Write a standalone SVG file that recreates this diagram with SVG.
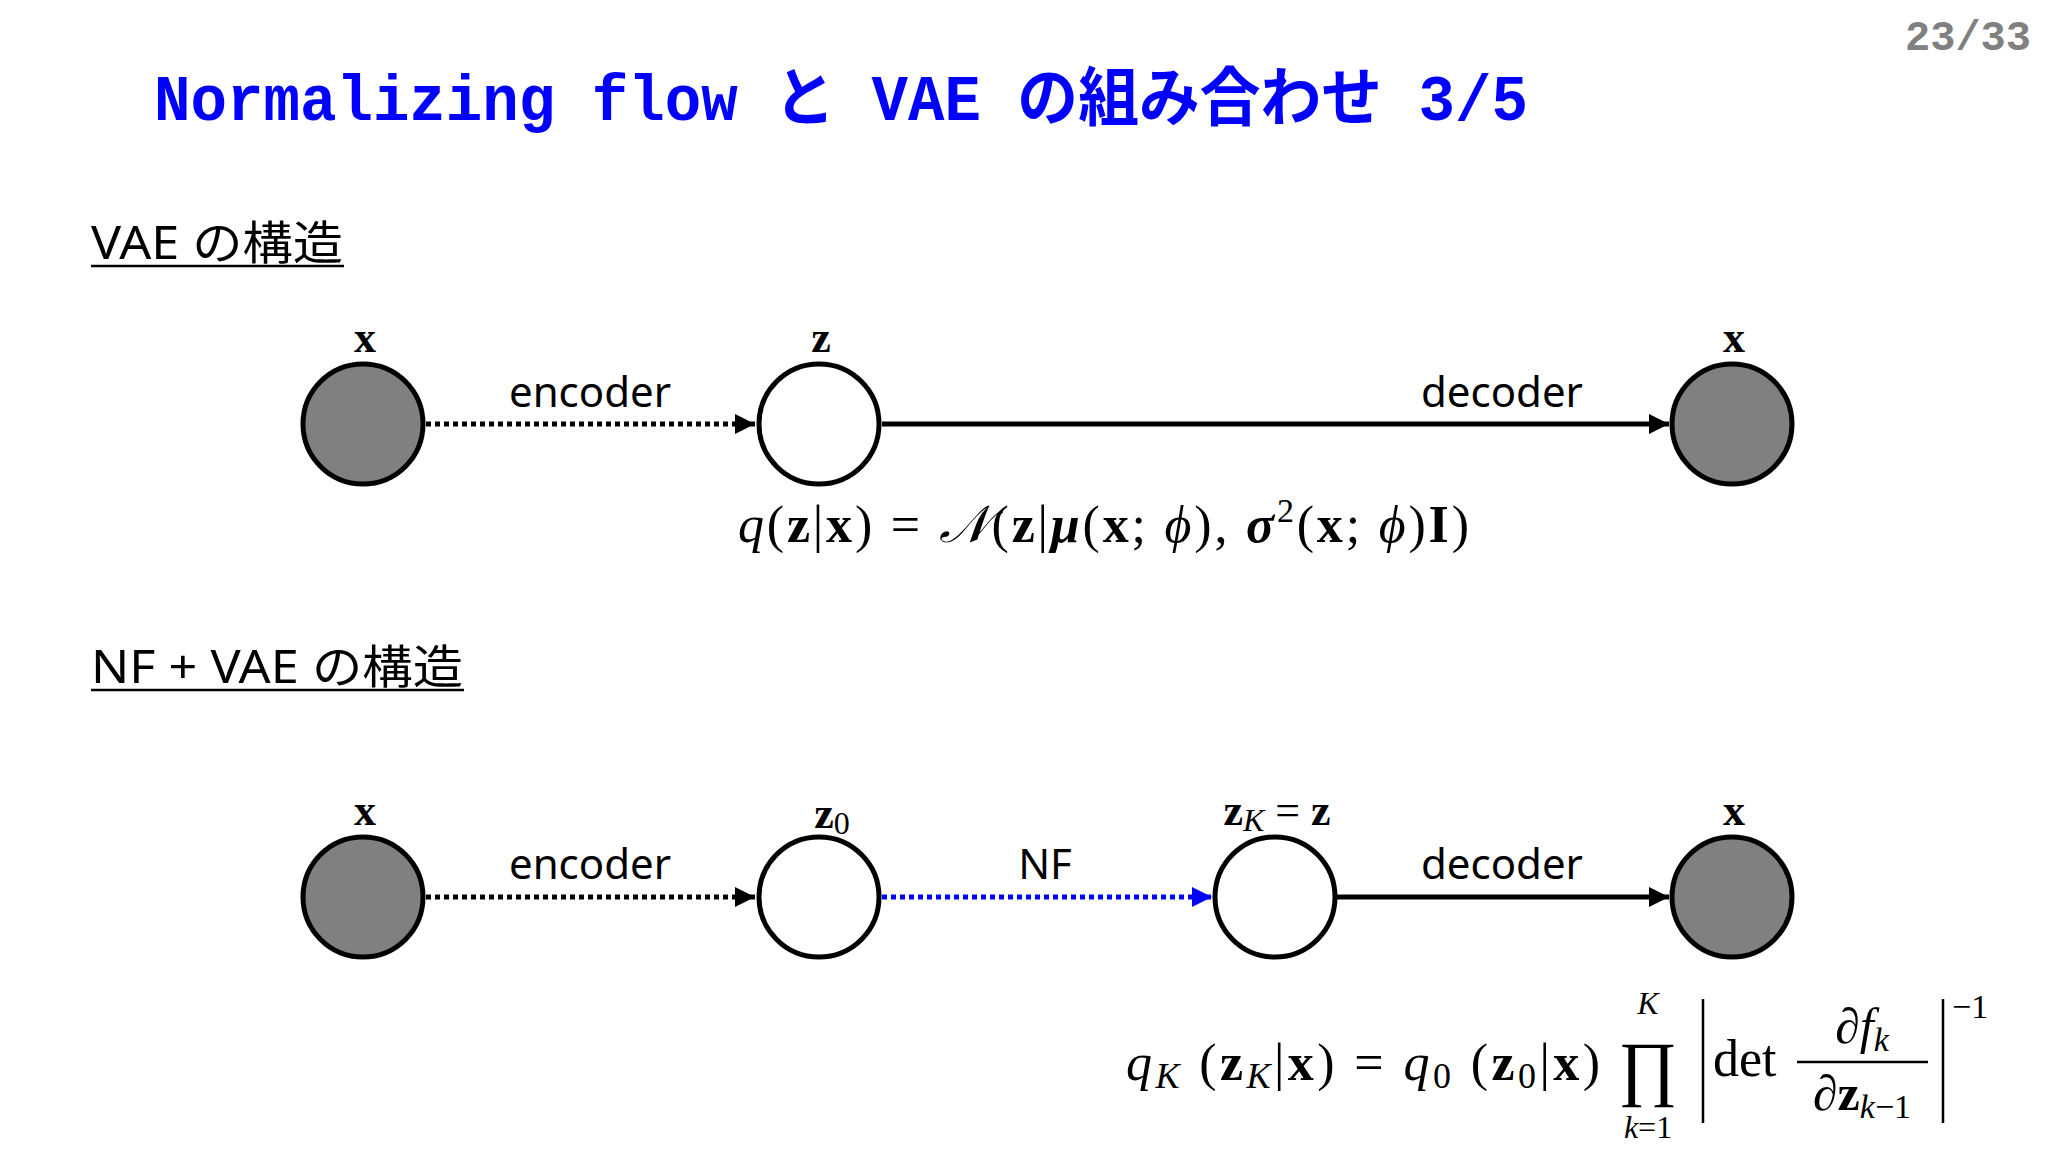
<svg xmlns="http://www.w3.org/2000/svg" width="2048" height="1152" viewBox="0 0 2048 1152">
<style>
.t{font-family:"Liberation Mono","Noto Sans CJK JP",monospace;font-weight:bold;fill:#0000ff}
.h{font-family:"Noto Sans","Noto Sans CJK JP",sans-serif;font-size:46px;fill:#000}
.s{font-family:"Noto Sans",sans-serif;font-size:42px;fill:#000;text-anchor:middle}
.m{font-family:"Liberation Serif","DejaVu Serif",serif;fill:#000}
.b{font-weight:bold}
.i{font-style:italic}
.g{fill:#808080;stroke:#000;stroke-width:5}
.w{fill:#fff;stroke:#000;stroke-width:5}
.ln{stroke:#000;stroke-width:5;fill:none}
.dt{stroke-dasharray:5 4}
</style>
<defs>
<marker id="a" viewBox="0 0 10 10" refX="10" refY="5" markerWidth="4" markerHeight="4" orient="auto"><path d="M0,0L10,5L0,10z" fill="#000"/></marker>
<marker id="ab" viewBox="0 0 10 10" refX="10" refY="5" markerWidth="4" markerHeight="4" orient="auto"><path d="M0,0L10,5L0,10z" fill="#0000ff"/></marker>
</defs>
<rect width="2048" height="1152" fill="#fff"/>
<text x="154" y="120" class="t" font-size="64" textLength="1374" lengthAdjust="spacingAndGlyphs">Normalizing flow と VAE の組み合わせ 3/5</text>
<text x="2031" y="50" font-family="Liberation Mono,monospace" font-weight="bold" font-size="42" fill="#808080" text-anchor="end">23/33</text>
<text x="91" y="259" class="h" textLength="252" lengthAdjust="spacingAndGlyphs">VAE の構造</text>
<line x1="91" y1="266" x2="344" y2="266" stroke="#000" stroke-width="2.5"/>
<text x="91" y="683" class="h" textLength="372" lengthAdjust="spacingAndGlyphs">NF + VAE の構造</text>
<line x1="91" y1="690" x2="464" y2="690" stroke="#000" stroke-width="2.5"/>
<g id="connectors">
<line x1="426" y1="424" x2="755" y2="424" class="ln dt" marker-end="url(#a)"/>
<line x1="882" y1="424" x2="1669" y2="424" class="ln" marker-end="url(#a)"/>
<line x1="426" y1="897" x2="755" y2="897" class="ln dt" marker-end="url(#a)"/>
<line x1="882" y1="897" x2="1212" y2="897" class="ln dt" style="stroke:#0000ff" marker-end="url(#ab)"/>
<line x1="1337" y1="897" x2="1669" y2="897" class="ln" marker-end="url(#a)"/>
<text x="590" y="407" class="s">encoder</text>
<text x="1502" y="407" class="s">decoder</text>
<text x="590" y="879" class="s">encoder</text>
<text x="1045" y="879" class="s">NF</text>
<text x="1502" y="879" class="s">decoder</text>
</g>
<g id="n1"><circle cx="363" cy="424" r="60" class="g"/><text x="365" y="352" class="m b" font-size="44" text-anchor="middle">x</text></g>
<g id="n2"><circle cx="819" cy="424" r="60" class="w"/><text x="821" y="352" class="m b" font-size="44" text-anchor="middle">z</text></g>
<g id="n3"><circle cx="1732" cy="424" r="60" class="g"/><text x="1734" y="352" class="m b" font-size="44" text-anchor="middle">x</text></g>
<g id="n4"><circle cx="363" cy="897" r="60" class="g"/><text x="365" y="825" class="m b" font-size="44" text-anchor="middle">x</text></g>
<g id="n5"><circle cx="819" cy="897" r="60" class="w"/><text x="832" y="828" class="m" font-size="44" text-anchor="middle"><tspan class="b">z</tspan><tspan font-size="32" dy="6">0</tspan></text></g>
<g id="n6"><circle cx="1275" cy="897" r="60" class="w"/><text x="1277" y="825" class="m" font-size="44" text-anchor="middle"><tspan class="b">z</tspan><tspan class="i" font-size="32" dy="6">K</tspan><tspan dy="-6"> = </tspan><tspan class="b">z</tspan></text></g>
<g id="n7"><circle cx="1732" cy="897" r="60" class="g"/><text x="1734" y="825" class="m b" font-size="44" text-anchor="middle">x</text></g>
<text x="738" y="542" class="m" font-size="52" textLength="731"><tspan class="i">q</tspan>(<tspan class="b">z</tspan>|<tspan class="b">x</tspan>) = <tspan class="i">𝒩</tspan>(<tspan class="b">z</tspan>|<tspan class="b i">μ</tspan>(<tspan class="b">x</tspan>; <tspan class="i">ϕ</tspan>), <tspan class="b i">σ</tspan><tspan font-size="34" dy="-20">2</tspan><tspan dy="20">(</tspan><tspan class="b">x</tspan>; <tspan class="i">ϕ</tspan>)<tspan class="b">I</tspan>)</text>
<g id="formula2" class="m">
<text x="1126" y="1080" font-size="52" textLength="474"><tspan class="i">q</tspan><tspan class="i" font-size="36" dy="8">K</tspan><tspan dy="-8"> (</tspan><tspan class="b">z</tspan><tspan class="i" font-size="36" dy="8">K</tspan><tspan dy="-8">|</tspan><tspan class="b">x</tspan>) = <tspan class="i">q</tspan><tspan font-size="36" dy="8">0</tspan><tspan dy="-8"> (</tspan><tspan class="b">z</tspan><tspan font-size="36" dy="8">0</tspan><tspan dy="-8">|</tspan><tspan class="b">x</tspan>)</text>
<text x="1648" y="1092" font-size="72" text-anchor="middle">∏</text>
<text x="1648" y="1014" font-size="32" class="i" text-anchor="middle">K</text>
<text x="1648" y="1138" font-size="32" text-anchor="middle"><tspan class="i">k</tspan>=1</text>
<line x1="1703" y1="999" x2="1703" y2="1123" stroke="#000" stroke-width="2.5"/>
<line x1="1943" y1="999" x2="1943" y2="1123" stroke="#000" stroke-width="2.5"/>
<text x="1713" y="1076" font-size="52">det</text>
<line x1="1797" y1="1062" x2="1928" y2="1062" stroke="#000" stroke-width="2.5"/>
<text x="1862" y="1043" font-size="50" text-anchor="middle">∂<tspan class="i">f</tspan><tspan class="i" font-size="34" dy="8">k</tspan></text>
<text x="1862" y="1110" font-size="50" text-anchor="middle">∂<tspan class="b">z</tspan><tspan font-size="34" dy="8"><tspan class="i">k</tspan>−1</tspan></text>
<text x="1952" y="1018" font-size="34">−1</text>
</g>
</svg>
